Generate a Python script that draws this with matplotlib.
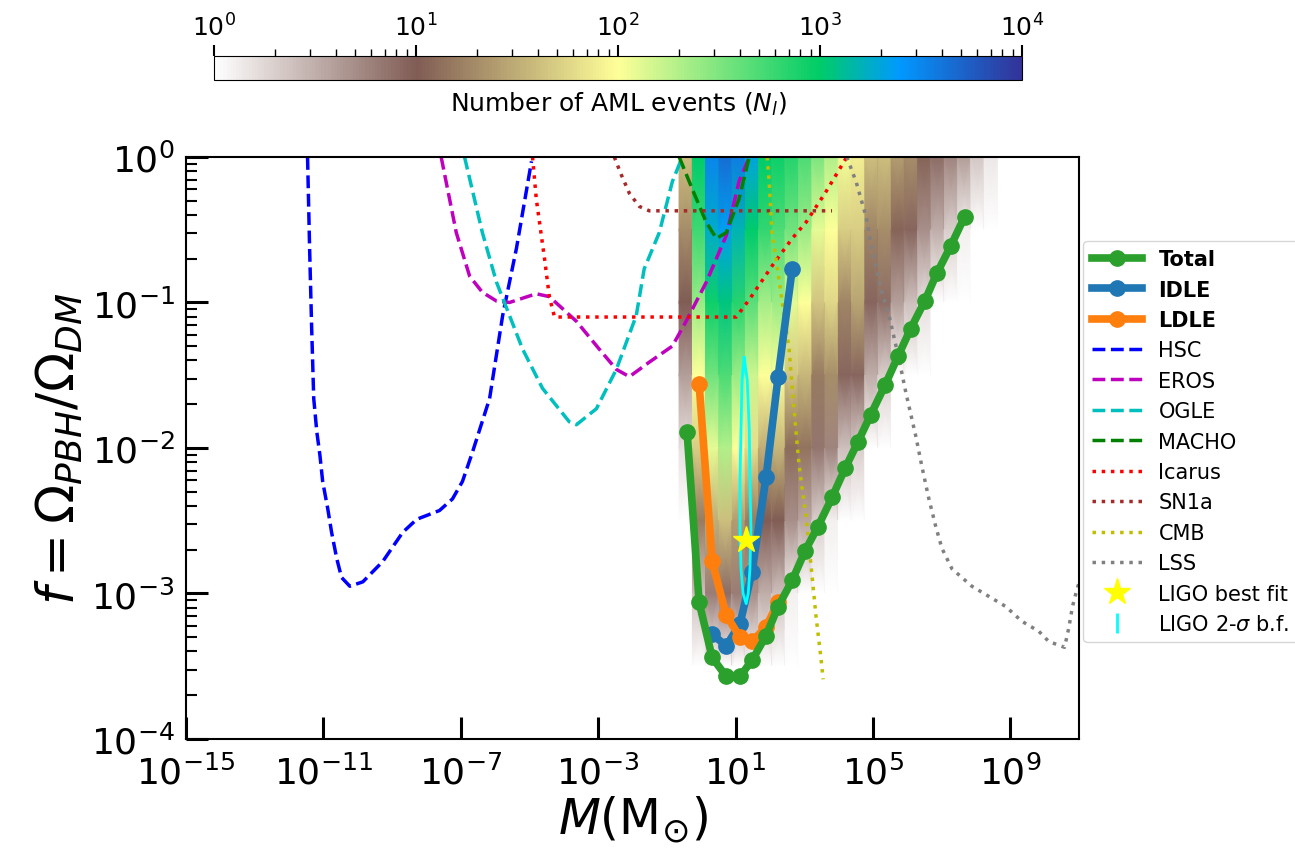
import numpy as np
import matplotlib
matplotlib.use('Agg')
import matplotlib.pyplot as plt
from matplotlib.colors import LogNorm
from matplotlib.ticker import FixedLocator, NullLocator

# ---- event-number map: one column per mass bin (log10 M/Msun) ----
grid_logm = [-0.45, -0.06, 0.32, 0.71, 1.10, 1.48, 1.87, 2.26, 2.64, 3.03, 3.42, 3.80,
             4.19, 4.57, 4.96, 5.35, 5.73, 6.12, 6.50, 6.89, 7.28, 7.66, 8.05, 8.44]
grid_logf = [0, -0.5, -1, -1.5, -2, -2.5, -3, -3.5, -4]
# log10 N per column, rows follow grid_logf
log_events = [
    [1.6, 1.3, 1.0, 0.6, 0.2, -0.4, -1.0, -1.5, -2.0],
    [3.0, 2.75, 2.4, 2.0, 1.7, 1.2, 0.4, -0.5, -1.2],
    [3.5, 3.25, 2.95, 2.55, 2.1, 1.5, 0.8, -0.1, -1.0],
    [3.65, 3.35, 3.05, 2.7, 2.3, 1.6, 0.9, 0.0, -1.0],
    [3.55, 3.2, 2.85, 2.4, 2.0, 1.4, 0.8, 0.0, -1.0],
    [3.3, 3.0, 2.65, 2.2, 1.8, 1.2, 0.7, -0.1, -1.0],
    [3.0, 2.8, 2.35, 2.0, 1.5, 1.0, 0.5, -0.3, -1.2],
    [2.95, 2.7, 2.4, 2.0, 1.55, 1.0, 0.4, -0.5, -1.3],
    [2.85, 2.55, 2.1, 1.65, 1.1, 0.7, 0.1, -0.8, -1.6],
    [2.7, 2.4, 2.0, 1.55, 1.15, 0.55, -0.2, -1.0, -1.8],
    [2.5, 2.1, 1.65, 1.2, 0.85, 0.3, -0.5, -1.3, -2.0],
    [2.3, 2.0, 1.75, 1.3, 0.75, 0.1, -0.7, -1.5, -2.2],
    [2.05, 1.7, 1.25, 0.95, 0.4, -0.4, -1.2, -2.0, -2.6],
    [1.9, 1.7, 1.45, 0.95, 0.3, -0.5, -1.3, -2.0, -2.7],
    [1.6, 1.25, 0.95, 0.5, -0.1, -0.9, -1.6, -2.3, -3.0],
    [1.6, 1.3, 0.9, 0.3, -0.5, -1.2, -1.9, -2.6, -3.2],
    [1.4, 1.05, 0.6, 0.0, -0.8, -1.5, -2.2, -2.9, -3.5],
    [1.3, 0.95, 0.4, -0.3, -1.1, -1.8, -2.5, -3.2, -3.8],
    [1.05, 0.7, 0.2, -0.6, -1.4, -2.1, -2.8, -3.5, -4.1],
    [0.9, 0.5, 0.0, -0.8, -1.6, -2.3, -3.0, -3.7, -4.3],
    [0.75, 0.3, -0.3, -1.1, -1.9, -2.6, -3.3, -4.0, -4.6],
    [0.6, 0.1, -0.6, -1.4, -2.2, -2.9, -3.6, -4.3, -4.9],
    [0.35, -0.2, -0.9, -1.7, -2.5, -3.2, -3.9, -4.6, -5.2],
    [0.15, -0.4, -1.1, -1.9, -2.7, -3.4, -4.1, -4.8, -5.4],
]

# ---- AML constraint curves (log10 M, log10 f) ----
total_logm = [-0.41, -0.06, 0.32, 0.73, 1.13, 1.48, 1.89, 2.24, 2.65, 3.02, 3.40,
              3.81, 4.19, 4.56, 4.94, 5.35, 5.73, 6.10, 6.51, 6.86, 7.27, 7.67]
total_logf = [-1.89, -3.06, -3.44, -3.57, -3.57, -3.46, -3.29, -3.09, -2.91, -2.71, -2.54,
              -2.34, -2.14, -1.96, -1.77, -1.57, -1.37, -1.18, -0.99, -0.80, -0.61, -0.41]
idle_logm = [0.32, 0.73, 1.13, 1.48, 1.89, 2.24, 2.65]
idle_logf = [-3.28, -3.36, -3.21, -2.85, -2.20, -1.51, -0.77]
ldle_logm = [-0.06, 0.32, 0.73, 1.13, 1.48, 1.89, 2.24]
ldle_logf = [-1.56, -2.78, -3.15, -3.30, -3.33, -3.23, -3.06]

# ---- other constraints ----
hsc_logm = [-11.46, -11.40, -11.34, -11.28, -11.19, -11.10, -11.02, -10.87, -10.76, -10.61,
            -10.47, -10.23, -9.85, -9.27, -8.69, -8.28, -7.62, -7.24, -6.95, -6.66, -6.16,
            -5.78, -5.38, -4.94]
hsc_logf = [0.0, -0.63, -1.18, -1.66, -1.89, -2.05, -2.23, -2.42, -2.58, -2.76,
            -2.89, -2.95, -2.92, -2.78, -2.58, -2.49, -2.43, -2.35, -2.23, -2.03, -1.66,
            -1.09, -0.63, -0.03]
eros_logm = [-7.57, -7.13, -6.74, -6.37, -5.96, -5.58, -4.80, -4.42, -3.63, -2.97,
             -2.47, -2.09, -1.51, -0.84, -0.44, 0.15, 0.73, 1.10, 1.40]
eros_logf = [0.0, -0.52, -0.82, -0.93, -0.99, -1.00, -0.94, -0.96, -1.13, -1.32,
             -1.46, -1.51, -1.41, -1.30, -1.13, -0.86, -0.54, -0.17, 0.0]
ogle_logm = [-6.89, -6.37, -5.96, -5.58, -5.20, -4.62, -3.84, -3.63, -3.05, -2.47,
             -1.89, -1.66, -1.22, -0.84, -0.55]
ogle_logf = [0.0, -0.52, -0.86, -1.09, -1.32, -1.59, -1.82, -1.84, -1.73, -1.46,
             -1.09, -0.77, -0.52, -0.17, 0.0]
macho_logm = [-0.64, -0.26, 0.15, 0.44, 0.73, 1.10, 1.40]
macho_logf = [0.0, -0.22, -0.45, -0.56, -0.52, -0.29, 0.0]
icarus_logm = [-4.91, -4.80, -4.56, -4.42, -4.27, 1.02, 1.40, 2.06, 2.65, 3.05, 3.63, 4.24]
icarus_logf = [0.0, -0.29, -0.70, -0.96, -1.10, -1.10, -0.98, -0.75, -0.56, -0.45, -0.24, 0.0]
sn1a_logm = [-2.53, -2.33, -2.09, -1.80, -1.51, 3.81]
sn1a_logf = [0.0, -0.12, -0.25, -0.34, -0.37, -0.37]
cmb_logm = [1.92, 1.98, 2.06, 2.18, 2.35, 2.56, 2.70, 2.85, 3.05, 3.20, 3.34, 3.49, 3.55]
cmb_logf = [0.0, -0.17, -0.52, -0.70, -0.98, -1.32, -1.73, -2.12, -2.47, -2.81, -3.15, -3.45, -3.59]
lss_logm = [4.24, 4.51, 4.80, 4.97, 5.26, 5.47, 5.76, 5.96, 6.25, 6.42, 6.63, 6.83, 7.01,
            7.30, 7.88, 8.87, 9.33, 9.83, 10.12, 10.58, 10.70, 10.81, 10.93, 11.13]
lss_logf = [0.0, -0.17, -0.41, -0.63, -0.93, -1.09, -1.39, -1.62, -1.92, -2.12, -2.35, -2.54, -2.69,
            -2.83, -2.95, -3.09, -3.19, -3.26, -3.33, -3.37, -3.24, -3.09, -2.98, -2.83]

# ---- LIGO ----
ligo_best = (1.31, -2.63)
ligo_2s_logm = [1.25, 1.34, 1.40, 1.42, 1.45, 1.42, 1.37, 1.31, 1.22, 1.16, 1.13, 1.13, 1.16, 1.19, 1.25]
ligo_2s_logf = [-1.38, -1.53, -1.87, -2.21, -2.56, -2.83, -3.00, -3.07, -3.00, -2.83, -2.56, -2.21, -1.87, -1.53, -1.38]

p = lambda v: 10 ** np.asarray(v, dtype=float)

fig = plt.figure(figsize=(12.95, 8.53), dpi=100)
ax = fig.add_axes([0.1436, 0.1325, 0.6896, 0.6823])
cax = fig.add_axes([0.1652, 0.905, 0.6239, 0.028])

# heat map: every column drawn as a flat strip, shaded along f only
half = 0.194
xn, cn = [], []
lev = np.array(log_events)
for i, c in enumerate(grid_logm):
    xn += [c - half, c + half - 0.01]
    cn += [lev[i], lev[i]]
C = 10 ** np.array(cn).T
mesh = ax.pcolormesh(p(xn), p(grid_logf), C, shading='gouraud', cmap='terrain_r',
                     norm=LogNorm(vmin=1, vmax=1e4), zorder=0, rasterized=True)

ax.plot(p(total_logm), p(total_logf), '-o', color='tab:green', lw=5.5, ms=11, label='Total', zorder=5)
ax.plot(p(idle_logm), p(idle_logf), '-o', color='tab:blue', lw=5.5, ms=11, label='IDLE', zorder=4)
ax.plot(p(ldle_logm), p(ldle_logf), '-o', color='tab:orange', lw=5.5, ms=11, label='LDLE', zorder=4)

ax.plot(p(hsc_logm), p(hsc_logf), 'b--', lw=2.5, label='HSC')
ax.plot(p(eros_logm), p(eros_logf), 'm--', lw=2.5, label='EROS')
ax.plot(p(ogle_logm), p(ogle_logf), 'c--', lw=2.5, label='OGLE')
ax.plot(p(macho_logm), p(macho_logf), 'g--', lw=2.5, label='MACHO')
ax.plot(p(icarus_logm), p(icarus_logf), 'r:', lw=2.5, label='Icarus')
ax.plot(p(sn1a_logm), p(sn1a_logf), ':', color='brown', lw=2.5, label='SN1a')
ax.plot(p(cmb_logm), p(cmb_logf), 'y:', lw=2.5, label='CMB')
ax.plot(p(lss_logm), p(lss_logf), ':', color='gray', lw=2.5, label='LSS')

ax.plot(p(ligo_2s_logm), p(ligo_2s_logf), '-', color='cyan', lw=2, zorder=6)
ax.plot(p(ligo_best[0]), p(ligo_best[1]), '*', color='yellow', ms=20, ls='none',
        label='LIGO best fit', zorder=7)
ax.plot([], [], ls='none', marker='|', color='cyan', ms=14, mew=2, label=r'LIGO 2-$\sigma$ b.f.')

ax.set_xscale('log')
ax.set_yscale('log')
ax.set_xlim(1e-15, 1e11)
ax.set_ylim(1e-4, 1)
ax.xaxis.set_major_locator(FixedLocator([1e-15, 1e-11, 1e-7, 1e-3, 1e1, 1e5, 1e9]))
ax.xaxis.set_minor_locator(NullLocator())
ax.tick_params(axis='both', which='major', direction='in', length=16, width=2.2, labelsize=26)
ax.tick_params(axis='x', which='major', pad=11)
ax.tick_params(axis='y', which='major', pad=8)
ax.tick_params(axis='y', which='minor', direction='in', length=8, width=1.5)
for s in ax.spines.values():
    s.set_linewidth(1.5)

ax.set_xlabel(r'$M(\mathrm{M}_{\odot})$', fontsize=35, labelpad=2)
ax.set_ylabel(r'$f = \Omega_{PBH}/\Omega_{DM}$', fontsize=37, labelpad=4)

leg = ax.legend(loc='upper left', bbox_to_anchor=(1.005, 0.856), fontsize=15,
                handlelength=2.4, labelspacing=0.5, borderaxespad=0)
for t in leg.get_texts()[:3]:
    t.set_fontweight('bold')

cb = fig.colorbar(mesh, cax=cax, orientation='horizontal')
cax.xaxis.set_ticks_position('top')
cax.xaxis.set_label_position('bottom')
cax.tick_params(which='major', labelsize=18, length=8, width=1.5, pad=3)
cax.tick_params(which='minor', length=5, width=1)
cb.set_label(r'Number of AML events ($N_l$)', fontsize=18, labelpad=7)

fig.savefig('out.png', dpi=100)
